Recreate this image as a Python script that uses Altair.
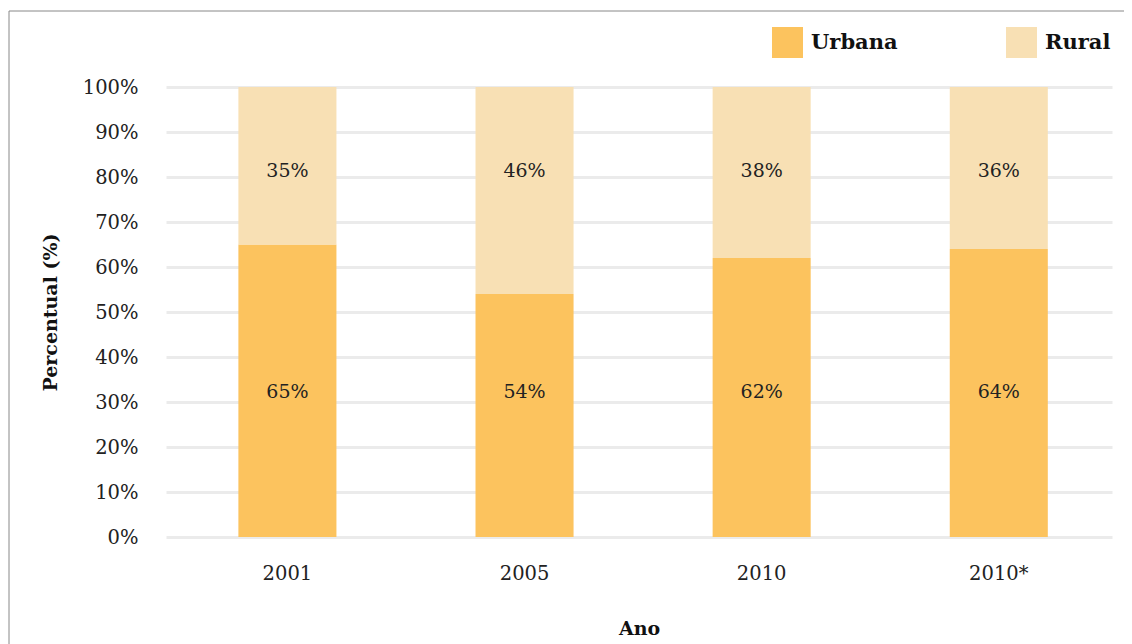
import altair as alt
import pandas as pd

anos = ["2001", "2005", "2010", "2010*"]
urbana = [65, 54, 62, 64]
rural = [35, 46, 38, 36]
series = ["Urbana", "Rural"]
cores = ["#FCC35E", "#F8E0B4"]
y_ticks = [0, 10, 20, 30, 40, 50, 60, 70, 80, 90, 100]

rows = []
for a, u, r in zip(anos, urbana, rural):
    rows.append({"ano": a, "serie": "Urbana", "ordem": 0, "valor": u})
    rows.append({"ano": a, "serie": "Rural", "ordem": 1, "valor": r})
df = pd.DataFrame(rows)

FONT = "DejaVu Serif"

x_scale = alt.Scale(paddingInner=0.5865, paddingOuter=0.288, align=0.53)

x_enc = alt.X("ano:N", sort=anos, title="Ano", scale=x_scale,
              axis=alt.Axis(labelAngle=0, labelPadding=27, titlePadding=37, ticks=False,
                            domain=False, grid=False))

bars = alt.Chart(df).mark_bar().encode(
    x=x_enc,
    y=alt.Y("valor:Q", stack="zero", title="Percentual (%)",
            scale=alt.Scale(domain=[0, 100], nice=False),
            axis=alt.Axis(values=y_ticks, labelExpr="datum.value + '%'", ticks=False,
                          domain=False, labelPadding=28, titlePadding=22,
                          gridColor="#ebebeb", gridWidth=3)),
    color=alt.Color("serie:N", sort=series,
                    scale=alt.Scale(domain=series, range=cores),
                    legend=alt.Legend(title=None, orient="none", direction="horizontal",
                                      legendX=606, legendY=-60, symbolType="square",
                                      symbolSize=961, symbolStrokeWidth=0, labelOffset=8,
                                      columnPadding=108, labelFontSize=21,
                                      labelFontWeight="bold", labelColor="#111")),
    order=alt.Order("ordem:Q"),
)

labels = alt.Chart(df).transform_calculate(
    pos="datum.serie == 'Urbana' ? 32.3 : 81.3",
    txt="datum.valor + '%'"
).mark_text(fontSize=19, color="#222", font=FONT).encode(
    x=alt.X("ano:N", sort=anos, scale=x_scale),
    y=alt.Y("pos:Q"),
    text="txt:N",
)

border = alt.Chart(pd.DataFrame({"k": [0]})).mark_rect(
    filled=False, stroke="#888888", strokeWidth=1
).encode(
    x=alt.value(-157), x2=alt.value(1000), y=alt.value(-76), y2=alt.value(600)
)

chart = alt.layer(border, bars, labels).properties(
    width=946, height=450,
    padding={"left": 158, "top": 79, "right": 12, "bottom": 115},
    autosize=alt.AutoSizeParams(type="none"),
).configure_view(stroke=None).configure_axis(
    labelFont=FONT, labelFontSize=19.5, labelColor="#222",
    titleFont=FONT, titleFontSize=19, titleFontWeight="bold", titleColor="#111",
).configure_legend(labelFont=FONT)

chart.save("out.html", embed_options={"renderer": "svg", "actions": False})
